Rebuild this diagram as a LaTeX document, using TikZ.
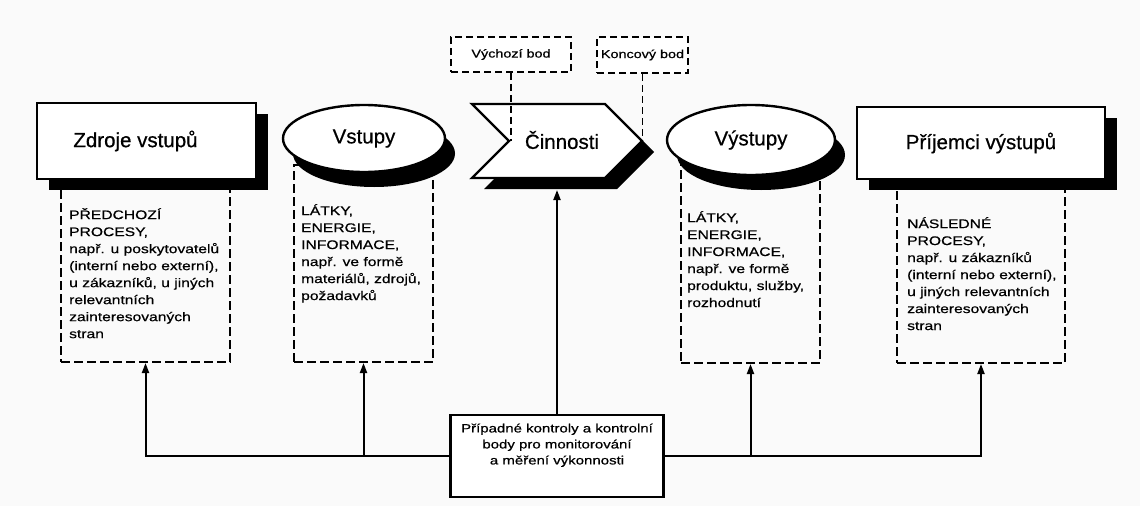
\documentclass[tikz,border=0pt]{standalone}
\usepackage{fontspec}
\setmainfont{Liberation Sans}[FakeBold=0.5]
\newfontfamily\titlefam{Liberation Sans}[FakeBold=0.6]
\newfontfamily\bodyfont{Liberation Sans}[FakeStretch=1.25,FakeBold=0.6]
\usetikzlibrary{shapes.geometric,shadows,arrows.meta}
\begin{document}
\begin{tikzpicture}[x=1pt,y=-1pt,
  titlefont/.style={font=\titlefam\fontsize{20.5}{24}\selectfont},
  boxshadow/.style={drop shadow={shadow xshift=12pt,shadow yshift=-11pt,fill=black,opacity=1}},
  ellshadow/.style={drop shadow={shadow xshift=10pt,shadow yshift=-15pt,fill=black,opacity=1}},
  titlebox/.style={draw,rectangle,line width=2.6pt,fill=white,inner sep=0pt,titlefont,boxshadow},
  titleell/.style={draw,ellipse,line width=2.4pt,fill=white,inner sep=0pt,titlefont,ellshadow},
  dashbox/.style={draw,rectangle,line width=2pt,dash pattern=on 9pt off 4pt,inner sep=0pt},
  smallbox/.style={draw,rectangle,line width=1.8pt,dash pattern=on 7pt off 4pt,inner sep=0pt,fill=white,
    font=\bodyfont\fontsize{11.5}{14}\selectfont},
  bodytext/.style={anchor=north west,align=left,inner sep=0pt,font=\bodyfont\fontsize{12.5}{17}\selectfont},
  dashline/.style={line width=1.8pt,dash pattern=on 7pt off 4pt},
  arr/.style={line width=2pt,-{Triangle[length=10pt,width=7pt]}}]
\fill[gray!4] (0,0) rectangle (1140,506);
\useasboundingbox (0,0) rectangle (1140,506);

% dashed description boxes
\node[dashbox,minimum width=169pt,minimum height=177pt] (d1) at (145.5,273.5) {};
\node[dashbox,minimum width=139pt,minimum height=197pt] (d2) at (363.5,263.5) {};
\node[dashbox,minimum width=139pt,minimum height=198pt] (d3) at (750.5,264) {};
\node[dashbox,minimum width=168pt,minimum height=178pt] (d4) at (981,274) {};

\node[bodytext] (t1) at (69,208) {PŘEDCHOZÍ\\PROCESY,\\např. u poskytovatelů\\(interní nebo externí),\\u zákazníků, u jiných\\relevantních\\zainteresovaných\\stran};
\node[bodytext] (t2) at (301,204) {LÁTKY,\\ENERGIE,\\INFORMACE,\\např. ve formě\\materiálů, zdrojů,\\požadavků};
\node[bodytext] (t3) at (687,211) {LÁTKY,\\ENERGIE,\\INFORMACE,\\např. ve formě\\produktu, služby,\\rozhodnutí};
\node[bodytext] (t4) at (907,217) {NÁSLEDNÉ\\PROCESY,\\např. u zákazníků\\(interní nebo externí),\\u jiných relevantních\\zainteresovaných\\stran};

% title shapes
\node[titlebox,minimum width=219pt,minimum height=76pt] (z) at (146.5,141) {Zdroje vstupů\hspace*{22pt}};
\node[titleell,minimum width=162pt,minimum height=67pt] (in) at (364,138.5) {Vstupy};
\node[titleell,minimum width=168pt,minimum height=70pt] (out) at (751,140) {Výstupy};
\node[titlebox,minimum width=248pt,minimum height=72pt] (p) at (981,143) {Příjemci výstupů};

% activity chevron
\fill[black,shift={(12,11)}] (472,104) -- (605,104) -- (642,141) -- (605,178) -- (472,178) -- (509,141) -- cycle;
\draw[line width=2.4pt,fill=white,line join=miter] (472,104) -- (605,104) -- (642,141) -- (605,178) -- (472,178) -- (509,141) -- cycle;
\node[titlefont,inner sep=0pt] (act) at (562,140) {Činnosti};
\coordinate (notch) at (509,141);
\coordinate (tip) at (642,141);
\coordinate (actbot) at (557,190);

% start / end points
\node[smallbox,minimum width=120pt,minimum height=35pt] (vb) at (511,54.5) {Výchozí bod};
\node[smallbox,minimum width=91pt,minimum height=36pt] (kb) at (642.5,55) {Koncový bod};
\draw[dashline] (vb.south) -- (vb.south |- notch);
\draw[dashline] (kb.south) -- (kb.south |- tip);

% control box
\node[draw,rectangle,line width=2.6pt,fill=white,minimum width=213pt,minimum height=82pt,inner sep=0pt,
  align=center,font=\bodyfont\fontsize{12}{16}\selectfont] (ctrl) at (557,456)
  {Případné kontroly a kontrolní\\body pro monitorování\\a měření výkonnosti\\[8pt]};

\draw[arr] (ctrl.west) -| (d1.south);
\draw[arr] (ctrl.east) -| (d4.south);
\draw[arr] (d2.south |- ctrl.west) -- (d2.south);
\draw[arr] (d3.south |- ctrl.east) -- (d3.south);
\draw[arr] (ctrl.north) -- (actbot);
\end{tikzpicture}
\end{document}
